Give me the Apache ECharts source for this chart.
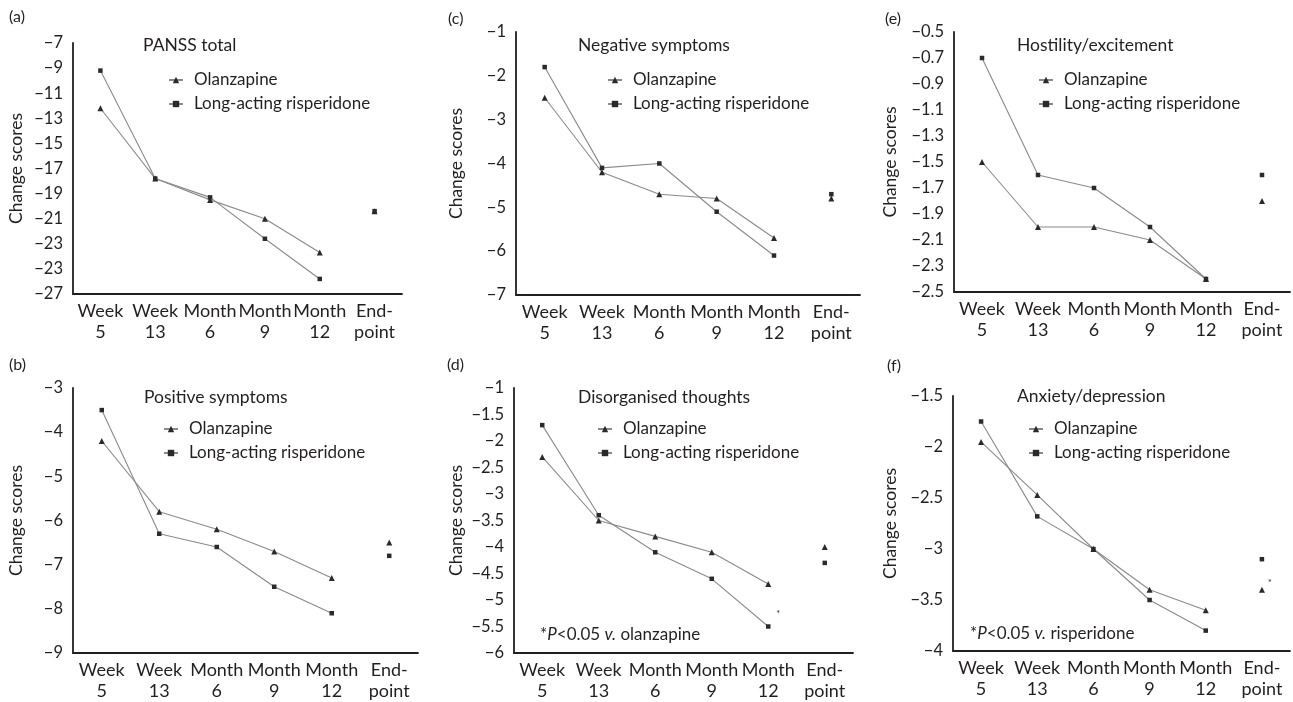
<!DOCTYPE html>
<html>
<head>
<meta charset="utf-8">
<script src="https://cdn.jsdelivr.net/npm/echarts@6/dist/echarts.min.js"></script>
<style>
  html, body { margin: 0; padding: 0; background: #fff; }
  #chart { width: 1293px; height: 702px; }
</style>
</head>
<body>
<div id="chart"></div>
<script>
// x categories (same for every panel)
const categories = ['Week\n5', 'Week\n13', 'Month\n6', 'Month\n9', 'Month\n12', 'End-\npoint'];

// (a) PANSS total
const olzA = [-12.2, -17.8, -19.5, -21.0, -23.7, -20.4];
const risA = [-9.2, -17.8, -19.3, -22.6, -25.8, -20.4];
const ticksA = ['−7', '−9', '−11', '−13', '−15', '−17', '−19', '−21', '−23', '−23', '−27'];

// (b) Positive symptoms
const olzB = [-4.2, -5.8, -6.2, -6.7, -7.3, -6.5];
const risB = [-3.5, -6.3, -6.6, -7.5, -8.1, -6.8];
const ticksB = ['−3', '−4', '−5', '−6', '−7', '−8', '−9'];

// (c) Negative symptoms
const olzC = [-2.5, -4.2, -4.7, -4.8, -5.7, -4.8];
const risC = [-1.8, -4.1, -4.0, -5.1, -6.1, -4.7];
const ticksC = ['−1', '−2', '−3', '−4', '−5', '−6', '−7'];

// (d) Disorganised thoughts
const olzD = [-2.3, -3.5, -3.8, -4.1, -4.7, -4.0];
const risD = [-1.7, -3.4, -4.1, -4.6, -5.5, -4.3];
const ticksD = ['−1', '−1.5', '−2', '−2.5', '−3', '−3.5', '−4', '−4.5', '−5', '−5.5', '−6'];

// (e) Hostility/excitement
const olzE = [-1.5, -2.0, -2.0, -2.1, -2.4, -1.8];
const risE = [-0.7, -1.6, -1.7, -2.0, -2.4, -1.6];
const ticksE = ['−0.5', '−0.7', '−0.9', '−1.1', '−1.3', '−1.5', '−1.7', '−1.9', '−2.1', '−2.3', '−2.5'];

// (f) Anxiety/depression
const olzF = [-1.95, -2.47, -3.0, -3.4, -3.6, -3.4];
const risF = [-1.75, -2.68, -3.0, -3.5, -3.8, -3.1];
const ticksF = ['−1.5', '−2', '−2.5', '−3', '−3.5', '−4'];

const FONT = 'Lato, "Open Sans", sans-serif';
const INK = '#231f20';

const panels = [
  { tag: '(a)', name: 'PANSS total', olz: olzA, ris: risA, ticks: ticksA, min: -27, max: -7, step: 1, every: 2,
    grid: { left: 73, top: 43, width: 329, height: 251 }, nameGap: 48,
    tagPos: [9, 8], titlePos: [143, 36], legendPos: [168, 71] },
  { tag: '(c)', name: 'Negative symptoms', olz: olzC, ris: risC, ticks: ticksC, min: -7, max: -1, step: 1, every: 1,
    grid: { left: 516, top: 32, width: 344, height: 263 }, nameGap: 51,
    tagPos: [448, 10], titlePos: [578, 36], legendPos: [607, 71] },
  { tag: '(e)', name: 'Hostility/excitement', olz: olzE, ris: risE, ticks: ticksE, min: -2.5, max: -0.5, step: 0.1, every: 2,
    grid: { left: 954, top: 32, width: 336, height: 260 }, nameGap: 55,
    tagPos: [885, 10], titlePos: [1017, 36], legendPos: [1038, 71] },
  { tag: '(b)', name: 'Positive symptoms', olz: olzB, ris: risB, ticks: ticksB, min: -9, max: -3, step: 1, every: 1,
    grid: { left: 73, top: 388, width: 345, height: 265 }, nameGap: 48,
    tagPos: [9, 356], titlePos: [144, 388], legendPos: [163, 420] },
  { tag: '(d)', name: 'Disorganised thoughts', olz: olzD, ris: risD, ticks: ticksD, min: -6, max: -1, step: 0.5, every: 1,
    grid: { left: 514, top: 388, width: 339, height: 265 }, nameGap: 49,
    tagPos: [447, 356], titlePos: [578, 388], legendPos: [597, 420],
    note: '*{i|P}<0.05 {i|v.} olanzapine', notePos: [540, 626], star: { ris: true, idx: 4, offset: [10, -12] } },
  { tag: '(f)', name: 'Anxiety/depression', olz: olzF, ris: risF, ticks: ticksF, min: -4, max: -1.5, step: 0.5, every: 1,
    grid: { left: 953, top: 396, width: 337, height: 255 }, nameGap: 54,
    tagPos: [887, 357], titlePos: [1017, 387], legendPos: [1028, 420],
    note: '*{i|P}<0.05 {i|v.} risperidone', notePos: [970, 625], star: { ris: false, idx: 5, offset: [8, -7] } }
];

const grid = [], xAxis = [], yAxis = [], series = [], title = [], legend = [];

panels.forEach((p, i) => {
  grid.push(p.grid);

  xAxis.push({
    type: 'category', gridIndex: i, data: categories, boundaryGap: true,
    axisLine: { lineStyle: { color: INK, width: 1.8 } },
    axisTick: { show: false },
    axisLabel: { interval: 0, color: INK, fontFamily: FONT, fontSize: 18, lineHeight: 21, margin: 7 }
  });

  yAxis.push({
    type: 'value', gridIndex: i, min: p.min, max: p.max, interval: p.step,
    name: 'Change scores', nameLocation: 'middle', nameRotate: 90, nameGap: p.nameGap,
    nameTextStyle: { color: INK, fontFamily: FONT, fontSize: 17.5 },
    splitLine: { show: false },
    axisTick: { show: false },
    axisLine: { show: true, lineStyle: { color: INK, width: 1.8 } },
    axisLabel: {
      color: INK, fontFamily: FONT, fontSize: 16.5, margin: 10,
      formatter: (v, idx) => idx % p.every ? '' : p.ticks[p.ticks.length - 1 - idx / p.every]
    }
  });

  const mk = (vals, name, symbol, size, isRis) => {
    const lineData = vals.map((v, k) => k < 5 ? v : '-');
    const endData = vals.map((v, k) => k === 5 ? v : '-');
    const addStar = (arr) => {
      if (p.star && p.star.ris === isRis && arr[p.star.idx] !== '-') {
        arr[p.star.idx] = {
          value: arr[p.star.idx],
          label: { show: true, formatter: '*', position: 'inside', offset: p.star.offset,
                   color: INK, fontSize: 9, fontFamily: FONT }
        };
      }
      return arr;
    };
    series.push({
      name: name, type: 'line', xAxisIndex: i, yAxisIndex: i, data: addStar(lineData),
      symbol: symbol, symbolSize: size, showSymbol: true,
      lineStyle: { color: '#8a8a8a', width: 1.1 },
      itemStyle: { color: '#2a2a2a' }, silent: true, animation: false
    });
    series.push({
      name: name + ' end', type: 'scatter', xAxisIndex: i, yAxisIndex: i, data: addStar(endData),
      symbol: symbol, symbolSize: size,
      itemStyle: { color: '#2a2a2a', opacity: 1 }, silent: true, animation: false
    });
  };
  mk(p.olz, 'Olanzapine', 'triangle', 6, false);
  mk(p.ris, 'Long-acting risperidone', 'rect', 4.5, true);

  title.push({
    text: p.tag, left: p.tagPos[0], top: p.tagPos[1], padding: 0,
    textStyle: { color: INK, fontFamily: FONT, fontSize: 16, fontWeight: 'normal', lineHeight: 18 }
  });
  title.push({
    text: p.name, left: p.titlePos[0], top: p.titlePos[1], padding: 0,
    textStyle: { color: INK, fontFamily: FONT, fontSize: 17.5, fontWeight: 'normal', lineHeight: 18 }
  });
  if (p.note) {
    title.push({
      text: p.note, left: p.notePos[0], top: p.notePos[1], padding: 0,
      textStyle: {
        color: INK, fontFamily: FONT, fontSize: 17, fontWeight: 'normal', lineHeight: 18,
        rich: { i: { fontStyle: 'italic', color: INK, fontFamily: FONT, fontSize: 17, lineHeight: 18 } }
      }
    });
  }

  legend.push({
    data: ['Olanzapine', 'Long-acting risperidone'],
    orient: 'vertical', left: p.legendPos[0], top: p.legendPos[1], padding: 0,
    itemWidth: 14, itemHeight: 8, itemGap: 6, selectedMode: false,
    textStyle: { color: INK, fontFamily: FONT, fontSize: 17, lineHeight: 18, padding: [0, 0, 0, 6] }
  });
});

const myChart = echarts.init(document.getElementById('chart'), null, { renderer: 'canvas' });
myChart.setOption({
  backgroundColor: '#fff',
  animation: false,
  title: title,
  legend: legend,
  grid: grid,
  xAxis: xAxis,
  yAxis: yAxis,
  series: series
});
</script>
</body>
</html>
